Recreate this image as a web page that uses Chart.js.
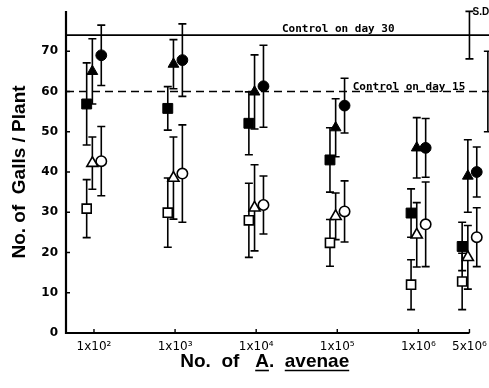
<!DOCTYPE html>
<html><head><meta charset="utf-8">
<script src="https://cdn.jsdelivr.net/npm/chart.js@4/dist/chart.umd.min.js"></script>
<style>html,body{margin:0;padding:0;background:#fff}#wrap{width:489px;height:388px}</style>
</head><body><div id="wrap"><canvas id="c" width="489" height="388"></canvas></div>
<script>
// ---- data ----
const doseLabels = ['1x10\u00B2','1x10\u00B3','1x10\u2074','1x10\u2075','1x10\u2076','5x10\u2076'];
const dosePos = [2, 3, 4, 5, 6, 6.63];          // position of each dose on the reference x axis (log10 units)
const yTicks = [0, 10, 20, 30, 40, 50, 60, 70];

const filledSquare   = [56.9, 55.8, 52.1, 43.0, 29.8, 21.5];
const filledSquareSD = [10.2, 5.4, 7.8, 8.0, 6.0, 6.0];
const filledTriangle   = [65.0, 66.8, 59.9, 51.0, 46.0, 39.0];
const filledTriangleSD = [8.1, 6.1, 9.2, 7.2, 7.5, 9.0];
const filledCircle   = [69.0, 67.8, 61.3, 56.5, 46.0, 40.0];
const filledCircleSD = [7.5, 9.0, 10.2, 6.8, 7.3, 6.2];
const openSquare   = [30.9, 29.9, 28.0, 22.4, 12.0, 12.8];
const openSquareSD = [7.2, 8.6, 9.2, 5.8, 6.2, 7.0];
const openTriangle   = [42.2, 38.5, 31.1, 29.0, 24.4, 18.8];
const openTriangleSD = [6.5, 10.2, 10.7, 5.8, 8.0, 7.9];
const openCircle   = [42.7, 39.6, 31.8, 30.2, 27.0, 23.8];
const openCircleSD = [8.6, 12.1, 7.2, 7.6, 10.5, 7.3];

const controlDay30 = 74, controlDay30SD = 5.9;
const controlDay15 = 60, controlDay15SD = 10;
const controlTexts = ['Control on day 30', 'Control on day 15'];

// ---- chart setup ----
const X_MIN = 1.655, X_MAX = 6.871, Y_MIN = 0, Y_MAX = 80;
const SD_X = [6.63, 6.857];       // where the control S.D. bars stand
const LABEL_X = [4.318, 5.19];    // where the control labels start

function markerSet(values, sd, style, filled, offset, radius) {
  return {
    data: values.map((v, i) => ({x: dosePos[i] + offset, y: v})),
    sd: sd,
    pointStyle: style,
    pointRadius: radius,
    pointHoverRadius: radius,
    backgroundColor: filled ? '#000' : '#fff',
    borderColor: '#000',
    borderWidth: filled ? 1 : 1.6,
    showLine: false,
    order: 0
  };
}

const datasets = [
  {type: 'line', data: [{x: X_MIN, y: controlDay30}, {x: X_MAX, y: controlDay30}], borderColor: '#000', borderWidth: 1.6, pointRadius: 0, order: 10},
  {type: 'line', data: [{x: X_MIN, y: controlDay15}, {x: X_MAX, y: controlDay15}], borderColor: '#000', borderWidth: 1.6, borderDash: [8, 5], pointRadius: 0, order: 10},
  markerSet(filledSquare, filledSquareSD, 'rect', true, -0.09, 7),
  markerSet(filledTriangle, filledTriangleSD, 'triangle', true, -0.02, 6.2),
  markerSet(filledCircle, filledCircleSD, 'circle', true, 0.09, 5.4),
  markerSet(openSquare, openSquareSD, 'rect', false, -0.09, 6.4),
  markerSet(openTriangle, openTriangleSD, 'triangle', false, -0.02, 6.4),
  markerSet(openCircle, openCircleSD, 'circle', false, 0.09, 5.2)
];

const overlay = {
  id: 'overlay',
  beforeDraw(chart) {
    const c = chart.ctx; c.save(); c.fillStyle = '#fff'; c.fillRect(0, 0, chart.width, chart.height); c.restore();
  },
  beforeDatasetsDraw(chart) {
    const ctx = chart.ctx, xs = chart.scales.x, ys = chart.scales.y;
    ctx.save(); ctx.strokeStyle = '#000'; ctx.lineWidth = 1.6;
    const bar = (x, y1, y2) => {
      ctx.beginPath();
      ctx.moveTo(x, y1); ctx.lineTo(x, y2);
      ctx.moveTo(x - 4, y1); ctx.lineTo(x + 4, y1);
      ctx.moveTo(x - 4, y2); ctx.lineTo(x + 4, y2);
      ctx.stroke();
    };
    chart.data.datasets.forEach(ds => {
      if (!ds.sd) return;
      ds.data.forEach((p, i) => {
        bar(xs.getPixelForValue(p.x), ys.getPixelForValue(p.y + ds.sd[i]), ys.getPixelForValue(p.y - ds.sd[i]));
      });
    });
    bar(xs.getPixelForValue(SD_X[0]), ys.getPixelForValue(controlDay30 + controlDay30SD), ys.getPixelForValue(controlDay30 - controlDay30SD));
    bar(xs.getPixelForValue(SD_X[1]), ys.getPixelForValue(controlDay15 + controlDay15SD), ys.getPixelForValue(controlDay15 - controlDay15SD));
    ctx.restore();
  },
  afterDraw(chart) {
    const ctx = chart.ctx, xs = chart.scales.x, ys = chart.scales.y;
    ctx.save();
    ctx.strokeStyle = '#000'; ctx.fillStyle = '#000';
    // axes
    const x0 = xs.left, y0 = ys.bottom, xEnd = xs.getPixelForValue(dosePos[dosePos.length - 1]);
    ctx.lineWidth = 2.2;
    ctx.beginPath();
    ctx.moveTo(x0, ys.top); ctx.lineTo(x0, y0); ctx.lineTo(xEnd, y0);
    ctx.stroke();
    ctx.lineWidth = 1.4;
    ctx.beginPath();
    yTicks.forEach(t => { const y = ys.getPixelForValue(t); ctx.moveTo(x0, y); ctx.lineTo(x0 + 4, y); });
    dosePos.forEach(t => { const x = xs.getPixelForValue(t); ctx.moveTo(x, y0); ctx.lineTo(x, y0 - 4); });
    ctx.stroke();
    // control labels
    ctx.font = 'bold 11px "DejaVu Sans Mono"';
    ctx.textAlign = 'left'; ctx.textBaseline = 'alphabetic';
    ctx.fillText(controlTexts[0], xs.getPixelForValue(LABEL_X[0]), ys.getPixelForValue(controlDay30) - 3);
    ctx.fillText(controlTexts[1], xs.getPixelForValue(LABEL_X[1]), ys.getPixelForValue(controlDay15) - 2);
    // S.D. label
    ctx.font = 'bold 10px "Liberation Sans"';
    ctx.fillText('S.D.', xs.getPixelForValue(SD_X[0]) + 3, ys.getPixelForValue(controlDay30 + controlDay30SD) + 4);
    // x-axis title with underlined genus / species
    ctx.font = 'bold 19px "Liberation Sans"';
    const parts = [['No.  of   ', false], ['A', true], ['.  ', false], ['avenae', true]];
    const widths = parts.map(p => ctx.measureText(p[0]).width);
    const total = widths.reduce((a, b) => a + b, 0);
    let tx = (x0 + xEnd) / 2 - total / 2 - 3;
    const ty = 367;
    ctx.lineWidth = 1.6;
    parts.forEach((p, i) => {
      ctx.fillText(p[0], tx, ty);
      if (p[1]) { ctx.beginPath(); ctx.moveTo(tx, ty + 3.5); ctx.lineTo(tx + widths[i], ty + 3.5); ctx.stroke(); }
      tx += widths[i];
    });
    ctx.restore();
  }
};

new Chart(document.getElementById('c'), {
  type: 'scatter',
  data: {datasets: datasets},
  options: {
    responsive: false,
    animation: false,
    devicePixelRatio: 1,
    layout: {autoPadding: false, padding: {top: 11, right: 0, left: 0, bottom: 0}},
    plugins: {legend: {display: false}, tooltip: {enabled: false}},
    scales: {
      x: {
        type: 'linear', min: X_MIN, max: X_MAX,
        grid: {display: false, drawTicks: false}, border: {display: false},
        afterBuildTicks: s => { s.ticks = dosePos.map(v => ({value: v})); },
        afterFit: s => { s.height = 55; s.paddingLeft = 0; s.paddingRight = 0; },
        ticks: {
          autoSkip: false, maxRotation: 0, padding: 7, color: '#000',
          font: {family: '"DejaVu Sans"', size: 12},
          callback: (v, i) => doseLabels[i]
        }
      },
      y: {
        min: Y_MIN, max: Y_MAX,
        grid: {display: false, drawTicks: false}, border: {display: false},
        afterBuildTicks: s => { s.ticks = yTicks.map(v => ({value: v})); },
        afterFit: s => { s.width = 66; s.paddingTop = 0; s.paddingBottom = 0; },
        ticks: {padding: 8, color: '#000', font: {family: '"DejaVu Sans"', size: 12, weight: 'bold'}},
        title: {display: true, text: 'No. of  Galls / Plant', color: '#000',
          font: {family: '"Liberation Sans"', size: 19, weight: 'bold'}, padding: {top: 8, bottom: 0}}
      }
    }
  },
  plugins: [overlay]
});
</script>
</body></html>
